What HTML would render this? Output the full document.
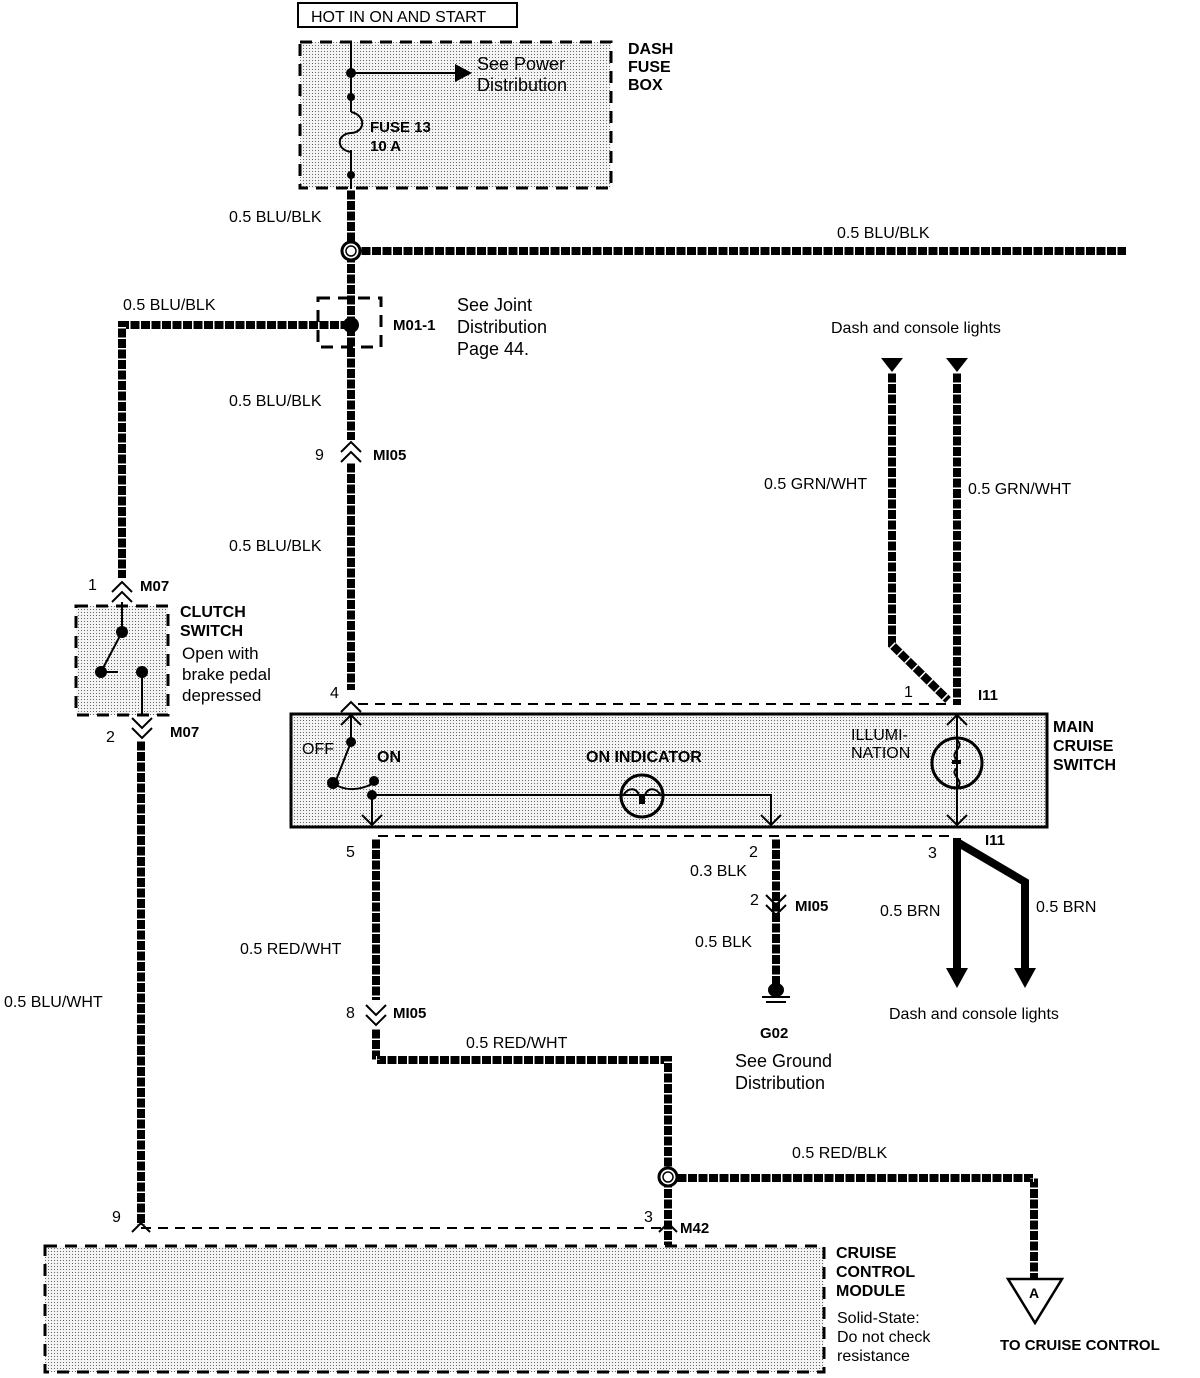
<!DOCTYPE html>
<html><head><meta charset="utf-8"><style>
html,body{margin:0;padding:0;background:#fff}
svg{display:block}
text{font-family:"Liberation Sans",Arial,sans-serif;fill:#000}
.b{font-weight:bold}
.w{stroke:#000;stroke-width:8;fill:none}
.h{stroke:#fff;stroke-width:8;fill:none;stroke-dasharray:1.5 9}
.t{stroke:#000;stroke-width:2;fill:none}
.d{stroke:#000;stroke-width:3;fill:none;stroke-dasharray:12 8}
.dt{stroke:#000;stroke-width:2;fill:none;stroke-dasharray:10 7}
</style></head><body>
<svg width="1200" height="1378" viewBox="0 0 1200 1378" xmlns="http://www.w3.org/2000/svg">
<defs>
<pattern id="st" width="3" height="3" patternUnits="userSpaceOnUse"><rect width="3" height="3" fill="#f4f4f4"/><rect width="1" height="1" fill="#666"/></pattern>
</defs>

<rect x="298" y="3" width="219" height="24" fill="#fff" stroke="#000" stroke-width="2"/>
<text x="311" y="22" font-size="16">HOT IN ON AND START</text>

<rect x="300" y="42" width="311" height="146" fill="url(#st)"/>
<rect x="300" y="42" width="311" height="146" class="d"/>
<text class="b" font-size="16" x="628" y="54">DASH</text>
<text class="b" font-size="16" x="628" y="72">FUSE</text>
<text class="b" font-size="16" x="628" y="90">BOX</text>
<path class="t" d="M351 42 V112 M351 150 V189"/>
<path class="t" d="M351 112 C366 115 366 132 351 133 C336 134 336 150 351 152"/>
<circle cx="351" cy="73" r="5"/><circle cx="351" cy="97" r="4"/><circle cx="351" cy="175" r="4"/>
<path class="t" d="M351 73 H458"/><path d="M455 64 L472 73 L455 82Z"/>
<text x="477" y="70" font-size="18">See Power</text>
<text x="477" y="91" font-size="18">Distribution</text>
<text class="b" x="370" y="132" font-size="15">FUSE 13</text>
<text class="b" x="370" y="151" font-size="15">10 A</text>

<path class="w" d="M351 189 V690"/><path class="h" d="M351 189 V690"/>
<path class="w" d="M360 251 H1126"/><path class="h" d="M360 251 H1126"/>
<circle cx="351" cy="251" r="9" fill="#fff" stroke="#000" stroke-width="3"/>
<circle cx="351" cy="251" r="5" fill="#fff" stroke="#000" stroke-width="1.5"/>
<text x="229" y="222" font-size="16">0.5 BLU/BLK</text>
<text x="837" y="238" font-size="16">0.5 BLU/BLK</text>

<path class="w" d="M351 325 H122 V580"/><path class="h" d="M351 325 H122 V580"/>
<rect x="318" y="298" width="63" height="49" class="d"/>
<circle cx="351" cy="325" r="8"/>
<text x="123" y="310" font-size="16">0.5 BLU/BLK</text>
<text class="b" x="393" y="330" font-size="15">M01-1</text>
<text x="457" y="311" font-size="18">See Joint</text>
<text x="457" y="333" font-size="18">Distribution</text>
<text x="457" y="355" font-size="18">Page  44.</text>
<text x="229" y="406" font-size="16">0.5 BLU/BLK</text>
<text x="229" y="551" font-size="16">0.5 BLU/BLK</text>
<rect x="340" y="440" width="22" height="22" fill="#fff"/>
<path class="t" stroke-width="3" d="M341 452 L351 442 L361 452 M341 462 L351 452 L361 462"/>
<text x="315" y="460" font-size="16">9</text>
<text class="b" x="373" y="460" font-size="15">MI05</text>

<rect x="76" y="606" width="92" height="109" fill="url(#st)"/>
<rect x="76" y="606" width="92" height="109" class="d"/>
<rect x="110" y="578" width="24" height="22" fill="#fff"/>
<path class="t" stroke-width="3" d="M112 592 L122 582 L132 592 M112 602 L122 592 L132 602"/>
<text x="88" y="590" font-size="16">1</text>
<text class="b" x="140" y="591" font-size="15">M07</text>
<path class="t" stroke-width="2.5" d="M122 602 V632 L102 670 M102 672 H118 M142 672 V715"/>
<circle cx="122" cy="632" r="6"/><circle cx="101" cy="672" r="6"/><circle cx="142" cy="672" r="6"/>
<text class="b" x="180" y="617" font-size="16">CLUTCH</text>
<text class="b" x="180" y="636" font-size="16">SWITCH</text>
<text x="182" y="659" font-size="17">Open with</text>
<text x="182" y="680" font-size="17">brake pedal</text>
<text x="182" y="701" font-size="17">depressed</text>
<path class="t" stroke-width="3" d="M132 718 L142 728 L152 718 M132 728 L142 738 L152 728"/>
<text x="106" y="742" font-size="16">2</text>
<text class="b" x="170" y="737" font-size="15">M07</text>
<path class="w" d="M141 740 V1225"/><path class="h" d="M141 740 V1225"/>
<text x="4" y="1007" font-size="16">0.5 BLU/WHT</text>

<rect x="291" y="714" width="756" height="113" fill="url(#st)" stroke="#000" stroke-width="3"/>
<path class="dt" d="M358 704 H950 M378 836 H955"/>
<path class="t" stroke-width="3" d="M341 712 L351 702 L361 712"/>
<text x="330" y="698" font-size="16">4</text>
<path class="t" stroke-width="2.5" d="M341 725 L351 715 L361 725 M351 715 V742 L335 783 M333 783 C345 792 360 790 372 784 M372 795 H771 V826 M372 795 V826 M957 714 V827"/>
<circle cx="351" cy="742" r="5"/><circle cx="333" cy="783" r="6"/><circle cx="374" cy="781" r="5"/><circle cx="372" cy="795" r="5"/>
<path class="t" stroke-width="2.5" d="M362 815 L372 825 L382 815 M761 815 L771 825 L781 815 M947 815 L957 825 L967 815 M947 725 L957 715 L967 725"/>
<circle cx="642" cy="796" r="21" fill="none" stroke="#000" stroke-width="3"/>
<path class="t" d="M623 796 C628 786 638 788 639 796 M645 796 C646 788 656 786 661 796"/><rect x="639" y="795" width="6" height="9"/>
<circle cx="957" cy="763" r="25" fill="none" stroke="#000" stroke-width="3"/>
<path class="t" d="M957 740 C966 748 948 752 957 760 M957 768 C948 775 966 780 957 788"/><rect x="952" y="760" width="9" height="4"/>
<text x="302" y="754" font-size="16">OFF</text>
<text class="b" x="377" y="762" font-size="16">ON</text>
<text class="b" x="586" y="762" font-size="16">ON INDICATOR</text>
<text x="851" y="740" font-size="16">ILLUMI-</text>
<text x="851" y="758" font-size="16">NATION</text>
<text class="b" x="1053" y="732" font-size="16">MAIN</text>
<text class="b" x="1053" y="751" font-size="16">CRUISE</text>
<text class="b" x="1053" y="770" font-size="16">SWITCH</text>

<text x="831" y="333" font-size="16">Dash and console lights</text>
<path d="M881 358 H903 L892 372Z M946 358 H968 L957 372Z"/>
<path class="w" d="M892 372 V645 L948 700"/><path class="h" d="M892 372 V645 L948 700"/>
<path class="w" d="M957 372 V705"/><path class="h" d="M957 372 V705"/>
<text x="764" y="489" font-size="16">0.5 GRN/WHT</text>
<text x="968" y="494" font-size="16">0.5 GRN/WHT</text>
<text x="904" y="697" font-size="16">1</text>
<text class="b" x="978" y="700" font-size="15">I11</text>

<path class="w" d="M376 838 V1000"/><path class="h" d="M376 838 V1000"/>
<text x="346" y="857" font-size="16">5</text>
<text x="240" y="954" font-size="16">0.5 RED/WHT</text>
<path class="t" stroke-width="3" d="M366 1005 L376 1015 L386 1005 M366 1015 L376 1025 L386 1015"/>
<text x="346" y="1018" font-size="16">8</text>
<text class="b" x="393" y="1018" font-size="15">MI05</text>
<path class="w" d="M376 1028 V1060 H668 V1245"/><path class="h" d="M376 1028 V1060 H668 V1245"/>
<text x="466" y="1048" font-size="16">0.5 RED/WHT</text>
<path class="w" d="M676 1178 H1034 V1280"/><path class="h" d="M676 1178 H1034 V1280"/>
<circle cx="668" cy="1177" r="9" fill="#fff" stroke="#000" stroke-width="3"/>
<circle cx="668" cy="1177" r="5" fill="#fff" stroke="#000" stroke-width="1.5"/>
<text x="792" y="1158" font-size="16">0.5 RED/BLK</text>
<path d="M1008 1279 H1062 L1035 1323Z" fill="#fff" stroke="#000" stroke-width="2.5"/>
<text class="b" x="1029" y="1298" font-size="14">A</text>
<text class="b" x="1000" y="1350" font-size="15">TO CRUISE CONTROL</text>

<path class="w" stroke-width="6" d="M776 838 V985"/><path class="h" stroke-width="6" d="M776 838 V985"/>
<text x="749" y="857" font-size="16">2</text>
<text x="690" y="876" font-size="16">0.3 BLK</text>
<path class="t" stroke-width="3" d="M766 895 L776 905 L786 895 M766 905 L776 915 L786 905"/>
<text x="750" y="905" font-size="16">2</text>
<text class="b" x="795" y="911" font-size="15">MI05</text>
<text x="695" y="947" font-size="16">0.5 BLK</text>
<ellipse cx="776" cy="990" rx="8" ry="7"/>
<path class="t" stroke-width="2.5" d="M762 997 H790 M766 1002 H786"/>
<text class="b" x="760" y="1038" font-size="15">G02</text>
<text x="735" y="1067" font-size="18">See Ground</text>
<text x="735" y="1089" font-size="18">Distribution</text>

<path stroke="#000" stroke-width="8" fill="none" d="M957 838 V970 M957 842 L1025 882 V970"/>
<path d="M946 968 H968 L957 988Z M1014 968 H1036 L1025 988Z"/>
<text x="928" y="858" font-size="16">3</text>
<text class="b" x="985" y="845" font-size="15">I11</text>
<text x="880" y="916" font-size="16">0.5 BRN</text>
<text x="1036" y="912" font-size="16">0.5 BRN</text>
<text x="889" y="1019" font-size="16">Dash and console lights</text>

<path class="dt" d="M141 1228 H668"/>
<path class="t" stroke-width="2.5" d="M132 1232 L141 1223 L150 1232 M659 1232 L668 1223 L677 1232"/>
<text x="112" y="1222" font-size="16">9</text>
<text x="644" y="1222" font-size="16">3</text>
<text class="b" x="680" y="1233" font-size="15">M42</text>
<rect x="45" y="1246" width="779" height="126" fill="url(#st)"/>
<rect x="45" y="1246" width="779" height="126" class="d"/>
<text class="b" x="836" y="1258" font-size="16">CRUISE</text>
<text class="b" x="836" y="1277" font-size="16">CONTROL</text>
<text class="b" x="836" y="1296" font-size="16">MODULE</text>
<text x="837" y="1323" font-size="16">Solid-State:</text>
<text x="837" y="1342" font-size="16">Do not check</text>
<text x="837" y="1361" font-size="16">resistance</text>
</svg>
</body></html>
